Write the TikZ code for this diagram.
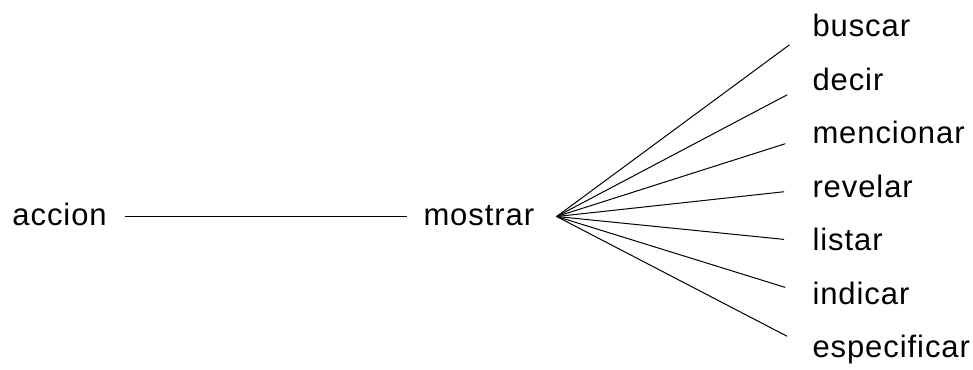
\documentclass[tikz,border=0pt]{standalone}
\usepackage{fontspec}
\setmainfont[LetterSpace=3]{Liberation Sans}
\usetikzlibrary{positioning}

\tikzset{
    word/.style={font=\fontsize{31}{36}\selectfont, inner sep=0pt,
                 text height=17pt, text depth=0pt},
    branch/.style={line width=1pt, shorten >=28pt}
}

\begin{document}
\begin{tikzpicture}[x=1pt, y=-1pt, line width=1pt]
    \useasboundingbox (0,0) rectangle (973,369);

    \node[word, anchor=west] (accion) at (12,216.5) {accion};
    \node[word, anchor=west] (mostrar) at (423,216.5) {mostrar};
    \coordinate[right=22pt of mostrar] (fan);

    \draw[shorten <=18pt, shorten >=16pt] (accion) -- (mostrar);

    % the seven verbs fanning out of mostrar
    \foreach \w [count=\i from 0] in {buscar,decir,mencionar,revelar,listar,indicar,especificar} {
        \node[word, anchor=west] (\w) at (812,{28.2+53.5*\i}) {\w};
        \draw[branch] (fan) -- (\w.west);
    }
\end{tikzpicture}
\end{document}
